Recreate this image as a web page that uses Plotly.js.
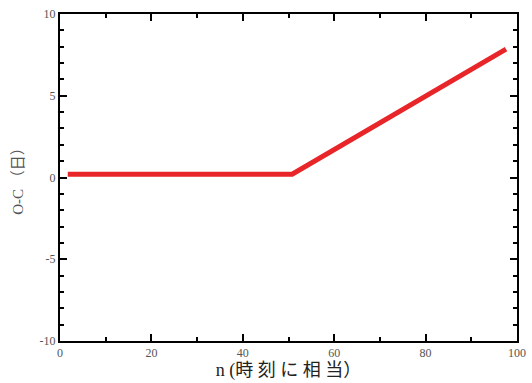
<!DOCTYPE html>
<html><head><meta charset="utf-8">
<script src="https://cdn.plot.ly/plotly-3.0.1.min.js"></script>
<style>html,body{margin:0;padding:0;background:#fff}</style>
</head><body><div id="c" style="width:532px;height:383px"></div>
<script>
const nValues = [1.7, 50.8, 97.6];
const ocValues = [0.2, 0.2, 7.85];
const xTicks = [0, 20, 40, 60, 80, 100];
const yTicks = [-10, -5, 0, 5, 10];

const serif = '"Liberation Serif", "Noto Sans CJK JP", serif';
const common = {
  showgrid: false, zeroline: false, showline: true, linecolor: '#000', linewidth: 2,
  mirror: 'ticks', ticks: 'inside', ticklen: 7, tickwidth: 2, tickcolor: '#000',
  tickfont: {family: serif, size: 12, color: '#555'},
  minor: {ticks: 'inside', ticklen: 4, tickwidth: 2, tickcolor: '#000'}
};
Plotly.newPlot('c', [{
  x: nValues, y: ocValues, type: 'scatter', mode: 'lines',
  line: {color: '#e8262a', width: 5}
}], {
  width: 532, height: 383,
  margin: {l: 60, r: 15, t: 14, b: 42},
  paper_bgcolor: '#fff', plot_bgcolor: '#fff', showlegend: false,
  xaxis: Object.assign({}, common, {
    range: [0, 100], tickvals: xTicks, ticktext: xTicks.map(String),
    minor: Object.assign({}, common.minor, {dtick: 10}),
    title: {text: 'n (時 刻 に 相 当）', font: {family: serif, size: 18, color: '#222'}, standoff: 1}
  }),
  yaxis: Object.assign({}, common, {
    range: [-10, 10], tickvals: yTicks, ticktext: yTicks.map(String),
    minor: Object.assign({}, common.minor, {dtick: 1}),
    title: {text: 'O-C （日）', font: {family: serif, size: 15, color: '#555'}, standoff: 12}
  })
}, {staticPlot: true});
</script></body></html>
